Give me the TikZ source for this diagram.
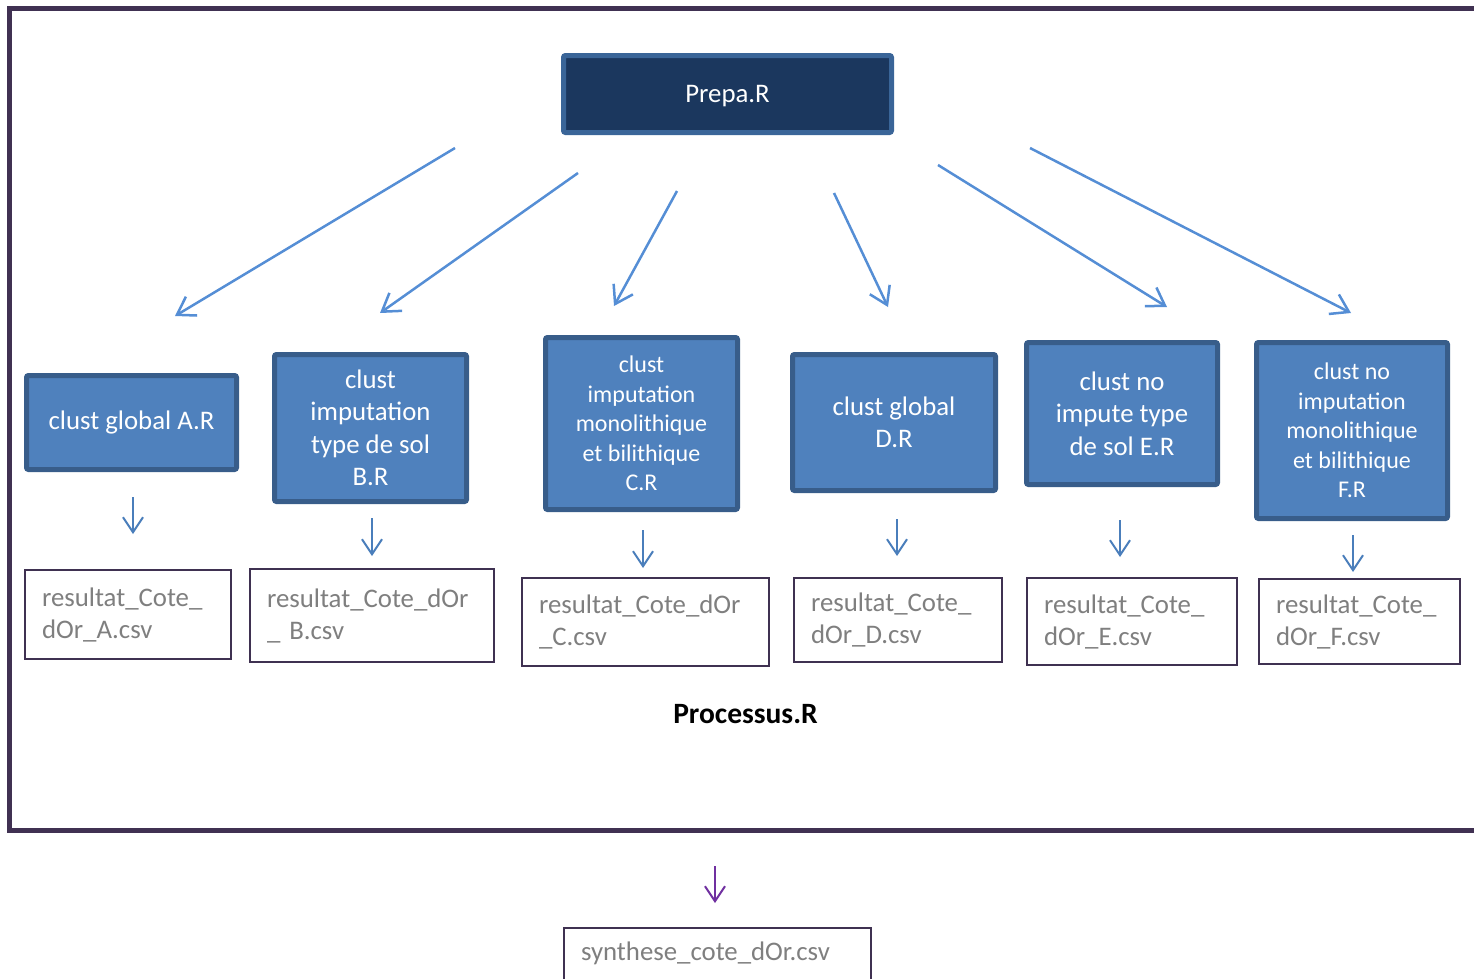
\documentclass[tikz,border=0pt]{standalone}
\usepackage{fontspec}
\setmainfont{Carlito}
\usetikzlibrary{arrows.meta}
\definecolor{framecol}{HTML}{403152}
\definecolor{navy}{HTML}{1B375E}
\definecolor{prepaborder}{HTML}{3A6598}
\definecolor{boxfill}{HTML}{4F81BD}
\definecolor{boxborder}{HTML}{385D8A}
\definecolor{diagblue}{HTML}{558ED5}
\definecolor{shortblue}{HTML}{4A7EBB}
\definecolor{arrowpurple}{HTML}{7030A0}
\definecolor{outborder}{HTML}{3F3151}
\definecolor{textgray}{HTML}{7F7F7F}
\tikzset{
  prog/.style={draw=boxborder, fill=boxfill, line width=5pt, rounded corners=2pt, text=white, align=center, inner sep=0pt, font=\fontsize{26.8}{32.5}\selectfont},
  progsmall/.style={prog, font=\fontsize{24}{29.5}\selectfont},
  outfile/.style={draw=outborder, fill=white, line width=2pt, text=textgray, align=left, inner xsep=17pt, inner ysep=0pt, font=\fontsize{26.8}{32}\selectfont},
  flow/.style={draw=diagblue, line width=2.5pt, -{Straight Barb[length=17pt,width=22pt]}},
  down/.style={draw=shortblue, line width=2pt, -{Straight Barb[length=15pt,width=20pt]}},
  downp/.style={down, draw=arrowpurple},
}
\begin{document}
\begin{tikzpicture}[x=1pt,y=-1pt]
\useasboundingbox (0,0) rectangle (1474,978);
% frame
\draw[framecol, line width=5pt] (1500,830.5) -- (9.5,830.5) -- (9.5,8.5) -- (1500,8.5);
% top
\node[prog, draw=prepaborder, fill=navy, minimum width=328pt, minimum height=77pt, text depth=0pt] (prepa) at (727.5,94) {Prepa.R};
% programs
\node[prog, minimum width=210pt, minimum height=94pt] (A) at (131.5,422.5) {clust global A.R};
\node[prog, minimum width=192pt, minimum height=147pt] (B) at (370.5,428) {clust\\imputation\\type de sol\\B.R};
\node[progsmall, minimum width=192pt, minimum height=172pt] (C) at (641.5,423.5) {clust\\imputation\\monolithique\\et bilithique\\C.R};
\node[prog, minimum width=203pt, minimum height=136pt] (D) at (894,422.5) {clust global\\D.R};
\node[prog, minimum width=191pt, minimum height=142pt] (E) at (1122,413.5) {clust no\\impute type\\de sol E.R};
\node[progsmall, minimum width=191pt, minimum height=176pt] (F) at (1352,430.5) {clust no\\imputation\\monolithique\\et bilithique\\F.R};
% outputs
\node[outfile, minimum width=206pt, text width=172pt, minimum height=89pt] (rA) at (128,614.5) {resultat\_Cote\_\\dOr\_A.csv};
\node[outfile, minimum width=244pt, text width=210pt, minimum height=93pt] (rB) at (372,615.5) {resultat\_Cote\_dOr\\\_ B.csv};
\node[outfile, minimum width=247pt, text width=213pt, minimum height=88pt] (rC) at (645.5,622) {resultat\_Cote\_dOr\\\_C.csv};
\node[outfile, minimum width=208pt, text width=174pt, minimum height=84pt] (rD) at (898,620) {resultat\_Cote\_\\dOr\_D.csv};
\node[outfile, minimum width=210pt, text width=176pt, minimum height=87pt] (rE) at (1132,621.5) {resultat\_Cote\_\\dOr\_E.csv};
\node[outfile, minimum width=201pt, text width=167pt, minimum height=85pt] (rF) at (1359.5,621.5) {resultat\_Cote\_\\dOr\_F.csv};
\node[font=\bfseries\fontsize{29.5}{35}\selectfont] (proc) at (745.5,714) {Processus.R};
\node[outfile, anchor=north west, text height=32pt, text depth=40pt, minimum width=307pt, text width=273pt] (syn) at (563,927) {synthese\_cote\_dOr.csv};
% diagonal arrow coordinates
\coordinate (a1s) at (455,148); \coordinate (a1e) at (175,316);
\coordinate (a2s) at (578,173); \coordinate (a2e) at (380,313);
\coordinate (a3s) at (677,191); \coordinate (a3e) at (614,306);
\coordinate (a4s) at (834,193); \coordinate (a4e) at (888,307);
\coordinate (a5s) at (938,165); \coordinate (a5e) at (1167,307);
\coordinate (a6s) at (1030,148); \coordinate (a6e) at (1351,313);
\foreach \i in {1,...,6} \draw[flow] (a\i s) -- (a\i e);
% short arrows
\coordinate (dAs) at (133,497); \coordinate (dAe) at (133,534);
\coordinate (dBs) at (372,518); \coordinate (dBe) at (372,556);
\coordinate (dCs) at (643,530); \coordinate (dCe) at (643,568);
\coordinate (dDs) at (897,519); \coordinate (dDe) at (897,556);
\coordinate (dEs) at (1120,520); \coordinate (dEe) at (1120,557);
\coordinate (dFs) at (1353,535); \coordinate (dFe) at (1353,572);
\foreach \i in {A,B,C,D,E,F} \draw[down] (d\i s) -- (d\i e);
\coordinate (dPs) at (715,866); \coordinate (dPe) at (715,903);
\draw[downp] (dPs) -- (dPe);
\end{tikzpicture}
\end{document}
